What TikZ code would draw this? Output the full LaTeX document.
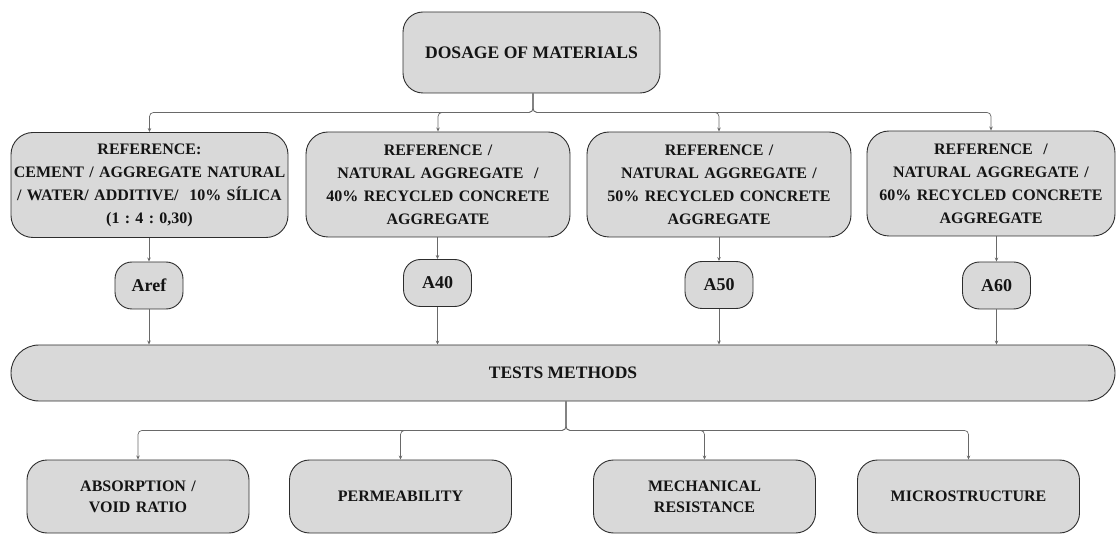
\documentclass[tikz,border=0pt]{standalone}
\usepackage{fontspec}
\setmainfont{Liberation Serif}
\usetikzlibrary{arrows.meta}
\definecolor{boxgray}{RGB}{217,217,217}
\definecolor{bordergray}{RGB}{45,45,45}
\definecolor{conngray}{RGB}{105,105,105}
\definecolor{textdark}{RGB}{20,20,20}
\frenchspacing
\newcommand\titlefont{\fontsize{17.6}{21}\selectfont\bfseries}
\newcommand\rowfont{\fontsize{16}{23}\selectfont\bfseries}
\newcommand\tagfont{\fontsize{18}{20}\selectfont\bfseries}
\newcommand\testfont{\fontsize{17.5}{21}\selectfont\bfseries}
\newcommand\botfont{\fontsize{16}{21}\selectfont\bfseries}
\begin{document}
\begin{tikzpicture}[x=1pt,y=-1pt,
  box/.style={draw=bordergray, fill=boxgray, line width=0.9pt, align=center, inner sep=0pt, text=textdark},
  rowbox/.style={box, rounded corners=22pt, minimum height=105pt, font=\rowfont},
  tagbox/.style={box, rounded corners=17pt, minimum width=68pt, minimum height=47pt, font=\tagfont},
  botbox/.style={box, rounded corners=20pt, minimum width=222pt, text width=218pt, minimum height=73pt, font=\botfont},
  arr/.style={draw=conngray, line width=0.7pt, rounded corners=4pt, -{Stealth[length=4pt,width=3.5pt]}}
]
\useasboundingbox (0,0) rectangle (1116,534);

\node[box, rounded corners=20pt, minimum width=257pt, minimum height=81pt, font=\titlefont] (top) at (531.5,52.5) {DOSAGE OF MATERIALS};

\node[rowbox, minimum width=277pt, text width=275pt] (r1) at (149.5,185) {REFERENCE:\\CEMENT / AGGREGATE NATURAL\\/ WATER/ ADDITIVE/\ \ 10\% SÍLICA\\(1 : 4 : 0,30)};
\node[rowbox, minimum width=264pt, text width=260pt] (r2) at (438,184.5) {REFERENCE /\\NATURAL AGGREGATE\ \ /\\40\% RECYCLED CONCRETE\\AGGREGATE};
\node[rowbox, minimum width=264pt, text width=260pt] (r3) at (719,184.5) {REFERENCE /\\NATURAL AGGREGATE /\\50\% RECYCLED CONCRETE\\AGGREGATE};
\node[rowbox, minimum width=248pt, text width=244pt] (r4) at (991,183.5) {REFERENCE\ \ /\\NATURAL AGGREGATE /\\60\% RECYCLED CONCRETE\\AGGREGATE};

\node[tagbox] (aref) at (149,285.5) {Aref};
\node[tagbox] (a40) at (437.5,283) {A40};
\node[tagbox] (a50) at (719,285) {A50};
\node[tagbox] (a60) at (996.5,285.5) {A60};

\node[box, rounded corners=28pt, minimum width=1104pt, minimum height=56pt, font=\testfont] (tests) at (563,373) {TESTS METHODS};

\node[botbox] (b1) at (138,496.5) {ABSORPTION /\\VOID RATIO};
\node[botbox] (b2) at (400.5,496.5) {PERMEABILITY};
\node[botbox] (b3) at (704.5,496.5) {MECHANICAL\\RESISTANCE};
\node[botbox] (b4) at (968.5,496.5) {MICROSTRUCTURE};

\foreach \n in {r1,r2,r3,r4}
  \draw[arr] ([xshift=1.5pt]top.south) -- ++(0,19) -| (\n.north);

\draw[arr] (aref.north |- r1.south) -- (aref.north);
\draw[arr] (a40.north |- r2.south) -- (a40.north);
\draw[arr] (a50.north |- r3.south) -- (a50.north);
\draw[arr] (a60.north |- r4.south) -- (a60.north);

\foreach \n in {aref,a40,a50,a60}
  \draw[arr] (\n.south) -- (\n.south |- tests.north);

\foreach \n in {b1,b2,b3,b4}
  \draw[arr] ([xshift=3pt]tests.south) -- ++(0,29) -| (\n.north);
\end{tikzpicture}
\end{document}
